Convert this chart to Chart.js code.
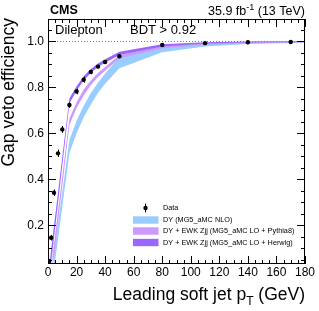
<!DOCTYPE html>
<html>
<head>
<meta charset="utf-8">
<script src="https://cdn.jsdelivr.net/npm/chart.js@4.4.1/dist/chart.umd.min.js"></script>
<style>
  html, body { margin: 0; padding: 0; background: #fff; }
</style>
</head>
<body>
<canvas id="chart" width="319" height="311"></canvas>
<script>
/* global Chart */

// Gap veto efficiency vs leading soft jet pT, data vs three MC bands

const FONT = '"Liberation Sans", Arial, Helvetica, sans-serif';

const dataX   = [0.8, 2.2, 4.2, 7, 10, 15, 20, 25, 30, 35, 40, 50, 80, 110, 140, 170];
const dataY   = [0.045, 0.146, 0.342, 0.513, 0.617, 0.723, 0.782, 0.833, 0.867, 0.89, 0.91, 0.935, 0.984, 0.992, 0.996, 0.997];
const dataErr = [0.008, 0.012, 0.014, 0.016, 0.015, 0.012, 0.012, 0.013, 0.01, 0.008, 0.008, 0.008, 0.005, 0.003, 0.003, 0.003];

// MC bands: DY NLO (blue), DY+EWK Pythia8 (light purple), DY+EWK Herwig (dark purple)
const nloX  = [4, 15, 20, 25, 30, 35, 40, 50, 80, 110, 140, 180];
const nloLo = [0.0, 0.514, 0.6, 0.67, 0.725, 0.775, 0.815, 0.883, 0.953, 0.978, 0.988, 0.994];
const nloHi = [0.07, 0.571, 0.655, 0.72, 0.775, 0.82, 0.86, 0.933, 0.975, 0.99, 0.995, 0.998];
const pyX   = [3, 15, 20, 25, 30, 35, 40, 50, 80, 110, 140, 180];
const pyLo  = [0.0, 0.636, 0.71, 0.765, 0.81, 0.845, 0.872, 0.926, 0.97, 0.986, 0.993, 0.996];
const pyHi  = [0.06, 0.665, 0.735, 0.79, 0.83, 0.862, 0.888, 0.94, 0.98, 0.992, 0.997, 0.999];
const hwX   = [1.5, 15, 20, 25, 30, 35, 40, 50, 80, 110, 140, 180];
const hwLo  = [0.0, 0.73, 0.785, 0.83, 0.862, 0.888, 0.907, 0.94, 0.977, 0.99, 0.995, 0.997];
const hwHi  = [0.06, 0.752, 0.805, 0.848, 0.88, 0.904, 0.922, 0.955, 0.987, 0.996, 0.999, 1.0];

const xTicks = [0, 20, 40, 60, 80, 100, 120, 140, 160, 180];
const yTicks = [0.2, 0.4, 0.6, 0.8, 1];

const legendLabels = ['Data', 'DY (MG5_aMC NLO)', 'DY + EWK Zjj (MG5_aMC LO + Pythia8)', 'DY + EWK Zjj (MG5_aMC LO + Herwig)'];
const bandColors = ['#99ccff', '#cc99ff', '#9966ff'];

function pts(xs, ys) {
  return xs.map((x, i) => ({ x: x, y: ys[i] }));
}

function bandLine(xs, ys, color, order) {
  return {
    data: pts(xs, ys),
    borderWidth: 0,
    borderColor: 'rgba(0,0,0,0)',
    pointRadius: 0,
    fill: color ? '-1' : false,
    backgroundColor: color || 'rgba(0,0,0,0)',
    order: order
  };
}

const framePlugin = {
  id: 'frame',
  beforeDatasetsDraw(chart) {
    const { ctx, chartArea: a, scales: { y } } = chart;
    const py = y.getPixelForValue(1);
    ctx.save();
    ctx.strokeStyle = '#777';
    ctx.lineWidth = 1;
    ctx.setLineDash([1, 2]);
    ctx.beginPath();
    ctx.moveTo(a.left, Math.round(py) + 0.5);
    ctx.lineTo(a.right, Math.round(py) + 0.5);
    ctx.stroke();
    ctx.restore();
  },
  afterDatasetsDraw(chart) {
    const { ctx, scales: { x, y } } = chart;
    ctx.save();
    ctx.strokeStyle = '#000';
    ctx.lineWidth = 1;
    dataX.forEach((v, i) => {
      const px = Math.round(x.getPixelForValue(v)) + 0.5;
      ctx.beginPath();
      ctx.moveTo(px, y.getPixelForValue(dataY[i] - dataErr[i]));
      ctx.lineTo(px, y.getPixelForValue(dataY[i] + dataErr[i]));
      ctx.stroke();
    });
    ctx.restore();
  },
  afterDraw(chart) {
    const { ctx, chartArea: a, scales: { x, y } } = chart;
    ctx.save();
    ctx.strokeStyle = '#000';
    ctx.lineWidth = 1;
    ctx.strokeRect(a.left + 0.5, a.top + 0.5, a.right - a.left - 1, a.bottom - a.top - 1);

    // ticks inside the frame, on all sides
    ctx.beginPath();
    for (let v = 0; v <= 180; v += 5) {
      const px = Math.round(x.getPixelForValue(v)) + 0.5;
      const len = v % 20 === 0 ? 8 : 4;
      ctx.moveTo(px, a.bottom); ctx.lineTo(px, a.bottom - len);
      ctx.moveTo(px, a.top); ctx.lineTo(px, a.top + len);
    }
    for (let k = 1; k <= 21; k++) {
      const v = k * 0.05;
      if (v < y.min || v > y.max) continue;
      const py = Math.round(y.getPixelForValue(v)) + 0.5;
      const len = k % 4 === 0 ? 8 : 4;
      ctx.moveTo(a.left, py); ctx.lineTo(a.left + len, py);
      ctx.moveTo(a.right, py); ctx.lineTo(a.right - len, py);
    }
    ctx.stroke();

    ctx.fillStyle = '#000';
    ctx.textBaseline = 'alphabetic';

    // header
    ctx.font = 'bold 12.5px ' + FONT;
    ctx.textAlign = 'left';
    ctx.fillText('CMS', 50, 14);

    const s1 = '35.9 fb', sup = '-1', s2 = ' (13 TeV)';
    ctx.font = '12.5px ' + FONT;
    const w1 = ctx.measureText(s1).width, w2 = ctx.measureText(s2).width;
    ctx.font = '9px ' + FONT;
    const ws = ctx.measureText(sup).width;
    let hx = 305 - w1 - ws - w2;
    ctx.font = '12.5px ' + FONT;
    ctx.fillText(s1, hx, 15);
    ctx.font = '9px ' + FONT;
    ctx.fillText(sup, hx + w1, 10);
    ctx.font = '12.5px ' + FONT;
    ctx.fillText(s2, hx + w1 + ws, 15);

    ctx.font = '13px ' + FONT;
    ctx.fillText('Dilepton', 55, 34);
    ctx.fillText('BDT > 0.92', 130, 34);

    // axis titles
    ctx.font = '17.5px ' + FONT;
    const t1 = 'Leading soft jet p', t2 = 'T', t3 = ' (GeV)';
    const tw1 = ctx.measureText(t1).width, tw3 = ctx.measureText(t3).width;
    ctx.font = '12px ' + FONT;
    const tw2 = ctx.measureText(t2).width;
    let tx = 305 - tw1 - tw2 - tw3;
    ctx.font = '17.5px ' + FONT;
    ctx.fillText(t1, tx, 300);
    ctx.font = '12px ' + FONT;
    ctx.fillText(t2, tx + tw1, 305);
    ctx.font = '17.5px ' + FONT;
    ctx.fillText(t3, tx + tw1 + tw2, 300);

    ctx.save();
    ctx.translate(14, 18);
    ctx.rotate(-Math.PI / 2);
    ctx.textAlign = 'right';
    ctx.fillText('Gap veto efficiency', 0, 0);
    ctx.restore();

    // legend
    const rows = [208, 220, 231, 242.5];
    ctx.font = '7.3px ' + FONT;
    ctx.textAlign = 'left';
    ctx.textBaseline = 'middle';
    legendLabels.forEach((lab, i) => {
      if (i === 0) {
        ctx.beginPath();
        ctx.arc(145.5, rows[0], 2.2, 0, Math.PI * 2);
        ctx.fill();
        ctx.beginPath();
        ctx.moveTo(145.5, rows[0] - 4.5); ctx.lineTo(145.5, rows[0] + 4.5);
        ctx.stroke();
      } else {
        ctx.fillStyle = bandColors[i - 1];
        ctx.fillRect(133, rows[i] - 3.7, 25.5, 7.4);
        ctx.fillStyle = '#000';
      }
      ctx.fillText(lab, 163, rows[i]);
    });
    ctx.restore();
  }
};

new Chart(document.getElementById('chart'), {
  type: 'line',
  data: {
    datasets: [
      {
        data: pts(dataX, dataY),
        showLine: false,
        pointRadius: 2.2,
        pointBackgroundColor: '#000',
        pointBorderWidth: 0,
        order: 0
      },
      bandLine(nloX, nloLo, null, 3),
      bandLine(nloX, nloHi, bandColors[0], 3),
      bandLine(pyX, pyLo, null, 2),
      bandLine(pyX, pyHi, bandColors[1], 2),
      bandLine(hwX, hwLo, null, 1),
      bandLine(hwX, hwHi, bandColors[2], 1)
    ]
  },
  options: {
    responsive: false,
    animation: false,
    devicePixelRatio: 1,
    layout: { padding: { top: 19, right: 14, left: 0, bottom: 0 } },
    plugins: { legend: { display: false }, tooltip: { enabled: false } },
    elements: { line: { tension: 0 } },
    scales: {
      x: {
        type: 'linear',
        min: 0,
        max: 180,
        grid: { display: false, drawTicks: false },
        border: { display: false },
        afterBuildTicks: s => { s.ticks = xTicks.map(v => ({ value: v })); },
        afterFit: s => { s.height = 47; },
        ticks: { color: '#000', font: { family: FONT, size: 12 }, padding: 1, maxRotation: 0, autoSkip: false }
      },
      y: {
        type: 'linear',
        min: 0.032,
        max: 1.097,
        grid: { display: false, drawTicks: false },
        border: { display: false },
        afterBuildTicks: s => { s.ticks = yTicks.map(v => ({ value: v })); },
        afterFit: s => { s.width = 48; },
        ticks: { color: '#000', font: { family: FONT, size: 12 }, padding: 4 }
      }
    }
  },
  plugins: [framePlugin]
});
</script>
</body>
</html>
